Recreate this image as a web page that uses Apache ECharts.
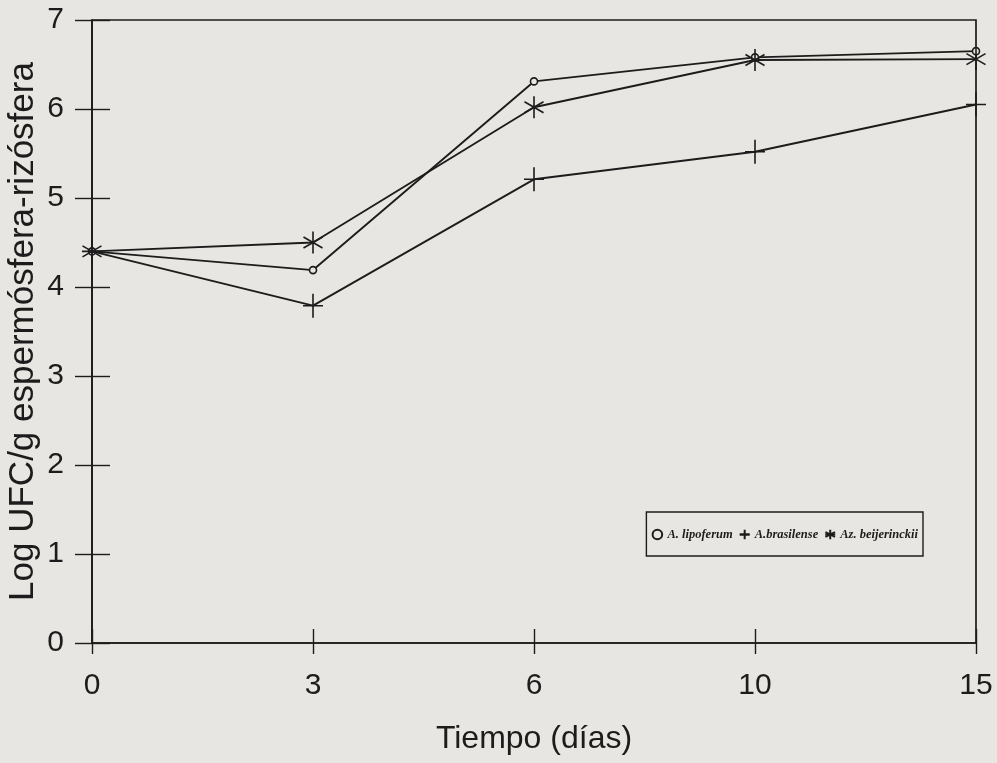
<!DOCTYPE html>
<html><head><meta charset="utf-8">
<script src="https://cdn.jsdelivr.net/npm/echarts@6/dist/echarts.min.js"></script>
<style>html,body{margin:0;padding:0;background:#e8e6e2}#c{width:997px;height:763px}</style>
</head><body><div id="c"></div>
<script>
var categories = ['0', '3', '6', '10', '15'];
var lipoferum = [4.4, 4.19, 6.31, 6.58, 6.65];
var brasilense = [4.4, 3.79, 5.21, 5.52, 6.05];
var beijerinckii = [4.4, 4.5, 6.02, 6.55, 6.56];
var seriesNames = ['A. lipoferum', 'A.brasilense', 'Az. beijerinckii'];
var yTicks = [0, 1, 2, 3, 4, 5, 6, 7];

var ink = '#1c1c1c';
var bg = '#e8e6e2';
var plusPath = 'path://M0,-12 L0,12 M-10,0 L10,0';
var starPath = 'path://M0,-10 L0,10 M-8.66,-5 L8.66,5 M-8.66,5 L8.66,-5';
var chart = echarts.init(document.getElementById('c'));
function mk(name, data, symbol, size, fill) {
  return {
    name: name, type: 'line', data: data, symbol: symbol, symbolSize: size,
    symbolKeepAspect: true, symbolRotate: 0,
    showAllSymbol: true,
    lineStyle: {color: ink, width: 1.9},
    itemStyle: {color: fill, borderColor: ink, borderWidth: 1.6},
    emphasis: {disabled: true}, z: 5
  };
}
chart.setOption({
  backgroundColor: bg,
  animation: false,
  grid: {left: 92, right: 21, top: 20, bottom: 120, containLabel: false, outerBoundsMode: 'none',
    show: true, borderColor: ink, borderWidth: 1.7, backgroundColor: 'transparent'},
  legend: {
    right: 74, top: 512, orient: 'horizontal',
    data: seriesNames,
    borderColor: ink, borderWidth: 1.4, padding: [16, 5, 15, 5],
    itemWidth: 10, itemHeight: 12, itemGap: 6,
    textStyle: {fontFamily: 'Liberation Serif', fontStyle: 'italic', fontWeight: 'bold', fontSize: 12.5, color: ink}
  },
  xAxis: [{
    type: 'category', data: categories, boundaryGap: false,
    axisLine: {lineStyle: {color: ink, width: 1.7}},
    axisTick: {alignWithLabel: true, length: 11, lineStyle: {color: ink, width: 1.4}},
    axisLabel: {fontFamily: 'Liberation Sans', fontSize: 30, color: ink, margin: 28},
    name: 'Tiempo (días)', nameLocation: 'middle', nameGap: 80, nameMoveOverlap: false,
    nameTextStyle: {fontFamily: 'Liberation Sans', fontSize: 32, color: ink},
    splitLine: {show: false}
  }, {
    type: 'category', data: categories, boundaryGap: false, position: 'bottom',
    axisLine: {show: false}, axisLabel: {show: false},
    axisTick: {inside: true, alignWithLabel: true, length: 14, lineStyle: {color: ink, width: 1.4}}
  }],
  yAxis: [{
    type: 'value', min: 0, max: 7, interval: 1,
    axisLine: {show: true, lineStyle: {color: ink, width: 1.7}},
    axisTick: {show: true, length: 17, lineStyle: {color: ink, width: 1.4}},
    axisLabel: {fontFamily: 'Liberation Sans', fontSize: 30, color: ink, margin: 28,
      formatter: function (v) { return yTicks.indexOf(v) >= 0 ? String(v) : ''; }},
    splitLine: {show: false},
    name: 'Log UFC/g espermósfera-rizósfera', nameLocation: 'middle', nameGap: 51, nameMoveOverlap: false,
    nameTextStyle: {fontFamily: 'Liberation Sans', fontSize: 35, color: ink}
  }, {
    type: 'value', min: 0, max: 7, interval: 1, position: 'left',
    axisLine: {show: false}, axisLabel: {show: false}, splitLine: {show: false},
    axisTick: {show: true, inside: true, length: 18, lineStyle: {color: ink, width: 1.4}}
  }],
  series: [
    mk(seriesNames[0], lipoferum, 'circle', 7, bg),
    mk(seriesNames[1], brasilense, plusPath, 24, 'transparent'),
    mk(seriesNames[2], beijerinckii, starPath, 22, 'transparent')
  ]
});
</script></body></html>
